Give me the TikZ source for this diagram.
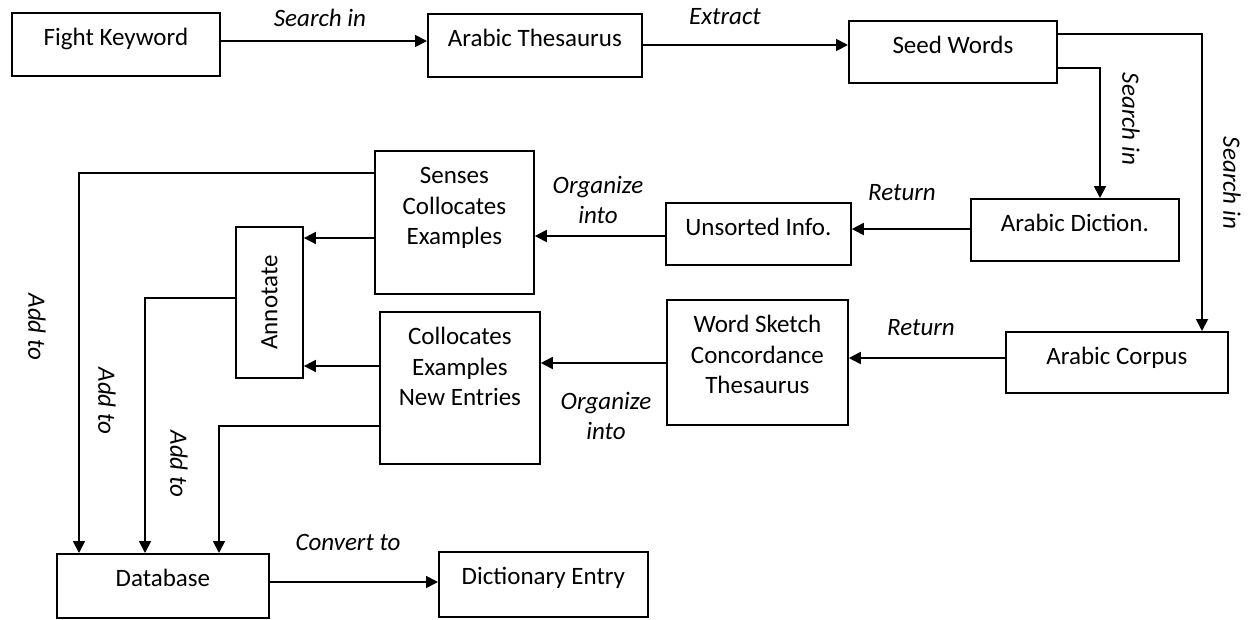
\documentclass[tikz,border=0pt]{standalone}
\usepackage{fontspec}
\setmainfont{Carlito}
\usetikzlibrary{arrows.meta}
\newcommand{\bt}[3]{\parbox[c][#2][t]{#1}{\centering\rule{0pt}{33pt}#3}}
\begin{document}
\begin{tikzpicture}[x=1pt,y=-1pt,
  box/.style={draw, line width=1.8pt, inner sep=0pt, anchor=north west, font=\fontsize{25}{30.5}\selectfont},
  lbl/.style={font=\fontsize{25}{30}\selectfont\itshape, inner sep=0pt},
  arr/.style={line width=1.8pt, -{Triangle[length=12pt,width=12pt]}}]
\useasboundingbox (0,0) rectangle (1256,619);
% boxes
\node[box] (fight) at (11,12) {\bt{208pt}{63pt}{Fight Keyword}};
\node[box] (arabthes) at (427,13) {\bt{214pt}{63pt}{Arabic Thesaurus}};
\node[box] (seed) at (848,20) {\bt{208pt}{62pt}{Seed Words}};
\node[box] (dictb) at (970,198) {\bt{208pt}{62pt}{Arabic Diction.}};
\node[box] (unsorted) at (665,202) {\bt{185pt}{62pt}{Unsorted Info.}};
\node[box] (senses) at (374,150) {\bt{159pt}{143pt}{Senses\\Collocates\\Examples}};
\node[draw, line width=1.8pt, inner sep=0pt, rotate=90, minimum width=151pt, minimum height=67pt, font=\fontsize{25}{30.5}\selectfont] (annot) at (269.5,302.5) {Annotate};
\node[box] (colloc) at (379,311) {\bt{160pt}{152pt}{Collocates\\Examples\\New Entries}};
\node[box] (wsk) at (666,299) {\bt{181pt}{125pt}{Word Sketch\\Concordance\\Thesaurus}};
\node[box] (corpus) at (1005,331) {\bt{222pt}{61pt}{Arabic Corpus}};
\node[box] (database) at (56,553) {\bt{212pt}{64pt}{Database}};
\node[box] (dictentry) at (438,551) {\bt{209pt}{65pt}{Dictionary Entry}};
% connectors
\draw[arr] (fight.east |- 0,41) -- (arabthes.west |- 0,41);
\node[lbl, anchor=base] (l1) at (320,26) {Search in};
\draw[arr] (arabthes.east |- 0,45) -- (seed.west |- 0,45);
\node[lbl, anchor=base] (l2) at (725,24) {Extract};
\draw[arr] (seed.east |- 0,34) -| (corpus.north -| 1202,0);
\draw[arr] (seed.east |- 0,68) -| (dictb.north -| 1100,0);
\node[lbl, rotate=-90] (l3) at (1131,119) {Search in};
\node[lbl, rotate=-90] (l4) at (1232,183) {Search in};
\draw[arr] (dictb.west |- 0,229) -- (unsorted.east |- 0,229);
\node[lbl, anchor=base] (l5) at (902,200) {Return};
\draw[arr] (unsorted.west |- 0,236) -- (senses.east |- 0,236);
\node[lbl, align=center] (l6) at (598,200) {Organize\\into};
\draw[arr] (senses.west |- 0,238) -- (annot.south |- 0,238);
\draw[arr] (senses.west |- 0,173) -| (database.north -| 79,0);
\node[lbl, rotate=-90] (l7) at (37,327) {Add to};
\draw[arr] (annot.north |- 0,298) -| (database.north -| 145,0);
\node[lbl, rotate=-90] (l8) at (107,401) {Add to};
\draw[arr] (corpus.west |- 0,358) -- (wsk.east |- 0,358);
\node[lbl, anchor=base] (l9) at (921,335) {Return};
\draw[arr] (wsk.west |- 0,363) -- (colloc.east |- 0,363);
\node[lbl, align=center] (l10) at (606,416) {Organize\\into};
\draw[arr] (colloc.west |- 0,366) -- (annot.south |- 0,366);
\draw[arr] (colloc.west |- 0,426) -| (database.north -| 219,0);
\node[lbl, rotate=-90] (l11) at (179,464) {Add to};
\draw[arr] (database.east |- 0,582) -- (dictentry.west |- 0,582);
\node[lbl, anchor=base] (l12) at (348,550) {Convert to};
\end{tikzpicture}
\end{document}
